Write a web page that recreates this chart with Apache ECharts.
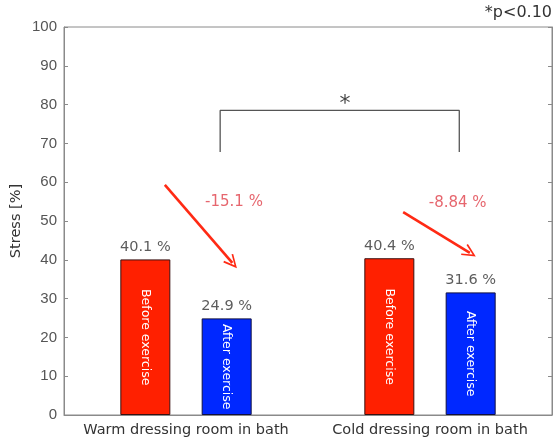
<!DOCTYPE html>
<html>
<head>
<meta charset="utf-8">
<script src="https://cdn.jsdelivr.net/npm/echarts@6/dist/echarts.min.js"></script>
<style>html,body{margin:0;padding:0;background:#fff}#c{width:555px;height:441px}</style>
</head>
<body>
<div id="c"></div>
<script>
// ---- data ----
const categories = ['Warm dressing room in bath', 'Cold dressing room in bath'];
const beforeValues = [40.1, 40.4];
const afterValues = [24.9, 31.6];
const changeLabels = ['-15.1 %', '-8.84 %'];
const yTicks = [0, 10, 20, 30, 40, 50, 60, 70, 80, 90, 100];
const barNames = ['Before exercise', 'After exercise'];

// bar slots on the x scale (MATLAB-style positions 1,2 and 4,5)
const beforeX = [1, 4];
const afterX = [2, 5];
const catX = [1.5, 4.5];

// annotations in data coordinates
const arrows = [
  [[1.24, 59.3], [2.07, 39.2]],
  [[4.17, 52.3], [4.99, 41.8]]
];
const changePos = [[2.09, 54.9], [4.84, 54.6]];
const bracket = [[1.92, 67.8], [1.92, 78.5], [4.86, 78.5], [4.86, 67.8]];
const starPos = [3.455, 80.0];

const FONT = 'DejaVu Sans';
const chart = echarts.init(document.getElementById('c'));

const beforeData = beforeValues.map((v, i) => [beforeX[i], v]);
const afterData = afterValues.map((v, i) => [afterX[i], v]);

const chevron = 'path://M0,12 L6,0 L12,12 L10.6,12.7 L6,3.4 L1.4,12.7 Z';

const option = {
  animation: false,
  backgroundColor: '#fff',
  grid: {
    left: 64, right: 3, top: 27, bottom: 26, show: true,
    borderColor: '#8a8a8a', borderWidth: 1,
    containLabel: false, outerBoundsMode: 'none'
  },
  graphic: [{
    type: 'text', right: 3, top: 5,
    style: { text: '*p<0.10', font: '16px "' + FONT + '"', fill: '#333' }
  }],
  xAxis: {
    type: 'value', min: 0, max: 6, interval: 1.5,
    splitLine: { show: false },
    axisLine: { show: true, lineStyle: { color: '#8a8a8a' } },
    axisTick: { show: false },
    axisLabel: {
      color: '#333', fontFamily: FONT, fontSize: 14.5, margin: 8,
      showMinLabel: false, showMaxLabel: false,
      formatter: v => { const i = catX.indexOf(v); return i >= 0 ? categories[i] : ''; }
    }
  },
  yAxis: [{
    type: 'value', min: 0, max: 100, interval: 10,
    name: 'Stress [%]', nameLocation: 'middle', nameRotate: 90, nameGap: 40,
    nameMoveOverlap: false,
    nameTextStyle: { color: '#333', fontFamily: FONT, fontSize: 14.5 },
    splitLine: { show: false },
    axisLine: { show: true, lineStyle: { color: '#8a8a8a' } },
    axisTick: { show: true, inside: true, length: 4, lineStyle: { color: '#8a8a8a' } },
    axisLabel: {
      color: '#555', fontFamily: 'Liberation Sans', fontSize: 15, margin: 7,
      formatter: v => yTicks.includes(v) ? String(v) : ''
    }
  }, {
    type: 'value', min: 0, max: 100, interval: 10, position: 'right',
    splitLine: { show: false },
    axisLine: { show: true, lineStyle: { color: '#8a8a8a' } },
    axisTick: { show: true, inside: true, length: 4, lineStyle: { color: '#8a8a8a' } },
    axisLabel: { show: false }
  }],
  series: [
    {
      name: barNames[0], type: 'bar', data: beforeData, barWidth: 50, barGap: '-100%',
      itemStyle: { color: '#ff2000', borderColor: '#3a1010', borderWidth: 1 },
      label: {
        show: true, position: 'inside', rotate: -90, color: '#fff',
        fontFamily: FONT, fontSize: 12.5, formatter: () => barNames[0]
      }
    },
    {
      name: barNames[1], type: 'bar', data: afterData, barWidth: 50, barGap: '-100%',
      itemStyle: { color: '#0028ff', borderColor: '#101040', borderWidth: 1 },
      label: {
        show: true, position: 'inside', rotate: -90, color: '#fff',
        fontFamily: FONT, fontSize: 12.5, formatter: () => barNames[1]
      }
    },
    {
      type: 'scatter', symbolSize: 0, silent: true,
      data: beforeData.concat(afterData),
      label: {
        show: true, position: 'top', distance: 5, color: '#333',
        fontFamily: FONT, fontSize: 14.5,
        formatter: p => p.value[1].toFixed(1) + ' %'
      }
    },
    {
      type: 'line', data: bracket, symbol: 'none', silent: true,
      lineStyle: { color: '#555', width: 1.3 },
      markLine: {
        silent: true, symbol: ['none', chevron], symbolSize: [13, 14],
        lineStyle: { color: '#ff2a14', width: 2.6, type: 'solid' },
        label: { show: false },
        data: arrows.map(a => [{ coord: a[0] }, { coord: a[1] }])
      }
    },
    {
      type: 'scatter', symbolSize: 0, silent: true,
      data: changePos.map((p, i) => ({ value: p, name: changeLabels[i] })),
      label: {
        show: true, position: 'inside', color: '#e0404a',
        fontFamily: FONT, fontSize: 15, formatter: p => p.name
      }
    },
    {
      type: 'scatter', symbolSize: 0, silent: true,
      data: [starPos],
      label: {
        show: true, position: 'inside', color: '#111',
        fontFamily: FONT, fontSize: 22, formatter: () => '*'
      }
    }
  ]
};
chart.setOption(option);
</script>
</body>
</html>
